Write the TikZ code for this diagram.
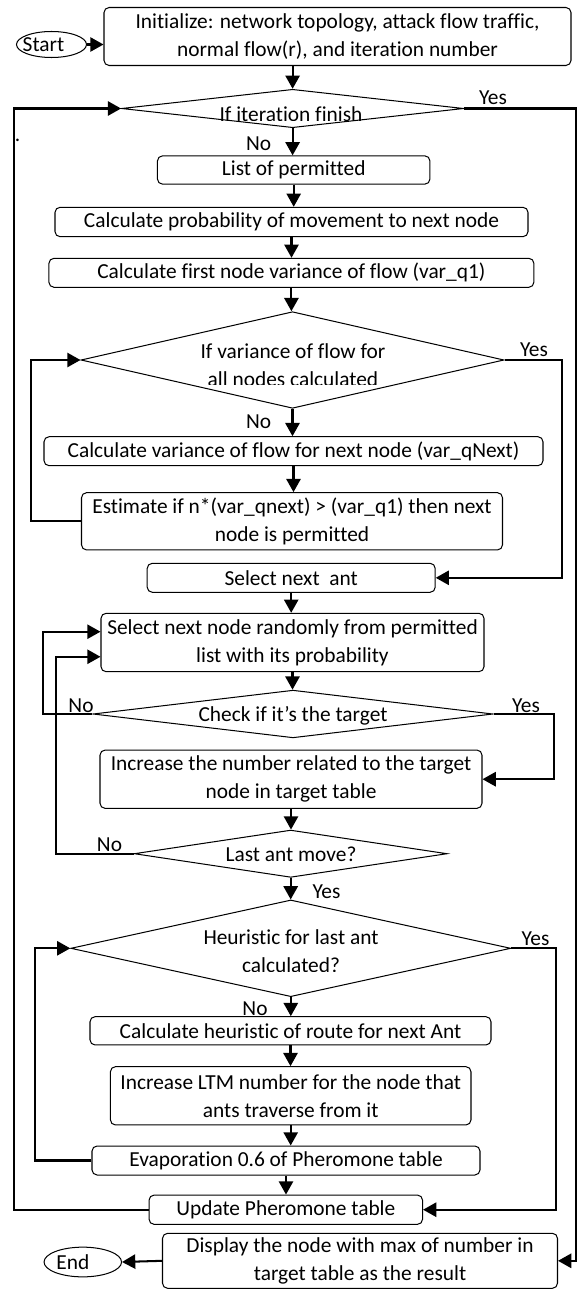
\documentclass[tikz,border=0pt]{standalone}
\usepackage{fontspec}
\setmainfont{Carlito}[Ligatures=CommonOff]
\usetikzlibrary{shapes.geometric,arrows.meta}
\newlength{\ux}\setlength{\ux}{0.491pt}

\begin{document}
\begin{tikzpicture}[
  x=0.491pt, y=-0.491pt,
  every node/.style={font=\fontsize{10.5}{13.9}\selectfont},
  sz/.style 2 args={minimum width=#1*\ux, minimum height=#2*\ux},
  proc/.style={draw, rounded corners=2.5pt, line width=0.5pt, align=center,
               inner sep=0pt},
  twoline/.style={proc, execute at begin node={\rule{0pt}{11.5pt}}},
  dec/.style={draw, diamond, line width=0.5pt, inner sep=0pt},
  term/.style={draw, ellipse, line width=0.5pt, inner sep=0pt},
  arr/.style={-{Triangle[length=6.5pt, width=7pt]}, line width=1pt},
  lbl/.style={inner sep=0pt},
  dtxt/.style={anchor=base, inner sep=0pt},
]
\useasboundingbox (0,0) rectangle (577,1289);

% ---- terminals ----
\node[term, sz={70}{26}] (start) at (51.5,44.5) {\hspace*{-16\ux}Start};
\node[term, sz={77.5}{29.7}] (stop) at (82.8,1262) {\hspace*{-20\ux}End};

% ---- process boxes, top to bottom ----
\node[twoline, sz={467}{58}] (init) at (337.5,36.5)
  {Initialize: network topology, attack flow traffic,\\normal flow(r), and iteration number};
\node[proc, sz={272.5}{28.3}] (list) at (293.7,170) {List of permitted};
\node[proc, sz={473}{29.4}] (prob) at (291.5,222)
  {Calculate probability of movement to next node};
\node[proc, sz={485}{29}] (first) at (291.4,272.8)
  {Calculate first node variance of flow (var\_q1)};
\node[proc, sz={499}{29}] (var) at (293.5,451.2)
  {Calculate variance of flow for next node (var\_qNext)};
\node[twoline, sz={421}{57.3}] (est) at (292,521.3)
  {Estimate if n*(var\_qnext) > (var\_q1) then next\\node is permitted};
\node[proc, sz={288}{29}] (sant) at (291.2,577.8) {Select next\ \ ant};
\node[twoline, sz={383}{58.4}] (snode) at (292.5,642.5)
  {Select next node randomly from permitted\\list with its probability};
\node[twoline, sz={382}{58.3}] (inc) at (291,779.2)
  {Increase the number related to the target\\node in target table};
\node[proc, sz={401}{28.3}] (heur) at (290.5,1030.8)
  {Calculate heuristic of route for next Ant};
\node[twoline, sz={360.6}{58.3}] (ltm) at (290.7,1095.8)
  {Increase LTM number for the node that\\ants traverse from it};
\node[proc, sz={388}{29}] (evap) at (286,1160.5)
  {Evaporation 0.6 of Pheromone table};
\node[proc, sz={273.5}{29.3}] (upd) at (285.8,1209.7) {Update Pheromone table};
\node[twoline, sz={395}{55}] (disp) at (360,1260.8)
  {Display the node with max of number in\\target table as the result};

% ---- decisions (text is clipped like the original text boxes) ----
\node[dec, sz={342}{38.4}] (d1) at (292.6,108.5) {};
\node[dec, sz={423}{96.6}] (d2) at (292.5,360) {};
\node[dec, sz={400}{47.7}] (d3) at (293,714) {};
\node[dec, sz={313}{47.3}] (d4) at (290.7,853.7) {};
\node[dec, sz={440}{96.7}] (d5) at (290.8,948.3) {};

\begin{scope}
  \clip (150,90) rectangle (440,120.5);
  \node[dtxt] (d1t) at (291,121.5) {If iteration finish};
\end{scope}
\begin{scope}
  \clip (150,320) rectangle (440,384);
  \node[dtxt] (d2ta) at (293,358.3) {If variance of flow for};
  \node[dtxt] (d2tb) at (293,386.5) {all nodes calculated};
\end{scope}
\node[dtxt] (d3t) at (293,721) {Check if it’s the target};
\node[dtxt] (d4t) at (291,861) {Last ant move?};
\begin{scope}
  \clip (150,910) rectangle (440,971);
  \node[dtxt] (d5ta) at (291,944) {Heuristic for last ant};
  \node[dtxt] (d5tb) at (291,972) {calculated?};
\end{scope}

% ---- branch labels ----
\node[lbl] (no1) at (258.6,143.3) {No};
\node[lbl] (yes1) at (493,98) {Yes};
\node[lbl] (dot) at (17.5,140) {.};
\node[lbl] (yes2) at (534,350) {Yes};
\node[lbl] (no2) at (258.6,421.7) {No};
\node[lbl] (no3) at (81,706) {No};
\node[lbl] (yes3) at (526,706) {Yes};
\node[lbl] (no4) at (109.5,845) {No};
\node[lbl] (yes4) at (326.5,891.7) {Yes};
\node[lbl] (yes5) at (535.5,938.3) {Yes};
\node[lbl] (no5) at (255,1008.3) {No};

% ---- rails for the loops ----
\coordinate (r1) at (14,0);
\coordinate (r2) at (31,0);
\coordinate (r3) at (43.4,0);
\coordinate (r4) at (56,0);
\coordinate (r5) at (35,0);
\coordinate (q1) at (576,0);
\coordinate (q2) at (562,0);
\coordinate (q3) at (554,0);
\coordinate (q5) at (556,0);

% ---- main flow ----
\draw[arr] (start.east) -- (start.east -| init.west);
\draw[arr] (init.south -| d1.north) -- (d1.north);
\foreach \a/\b in {d1/list, list/prob, prob/first, first/d2, d2/var, var/est,
                   sant/snode, snode/d3, inc/d4, d4/d5, d5/heur, heur/ltm,
                   ltm/evap, evap/upd}
  \draw[arr] (\a.south) -- (\a.south |- \b.north);
\draw[arr] (disp.west) -- (stop.east);

% ---- loops back on the left ----
\draw[arr] (upd.west) -- (upd.west -| r1) |- (d1.west);
\draw[arr] (est.west) -- (est.west -| r2) |- (d2.west);
\draw[arr] (d3.west) -- (d3.west -| r3) |- ([yshift=5.3pt]snode.west);
\draw[arr] (d4.west) -- (d4.west -| r4) |- ([yshift=-7pt]snode.west);
\draw[arr] (evap.west) -- (evap.west -| r5) |- (d5.west);

% ---- yes branches on the right ----
\draw[arr] (d1.east) -- (d1.east -| q1) |- (disp.east);
\draw[arr] (d2.east) -- (d2.east -| q2) |- (sant.east);
\draw[arr] (d3.east) -- (d3.east -| q3) |- (inc.east);
\draw[arr] (d5.east) -- (d5.east -| q5) |- (upd.east);

\end{tikzpicture}
\end{document}
